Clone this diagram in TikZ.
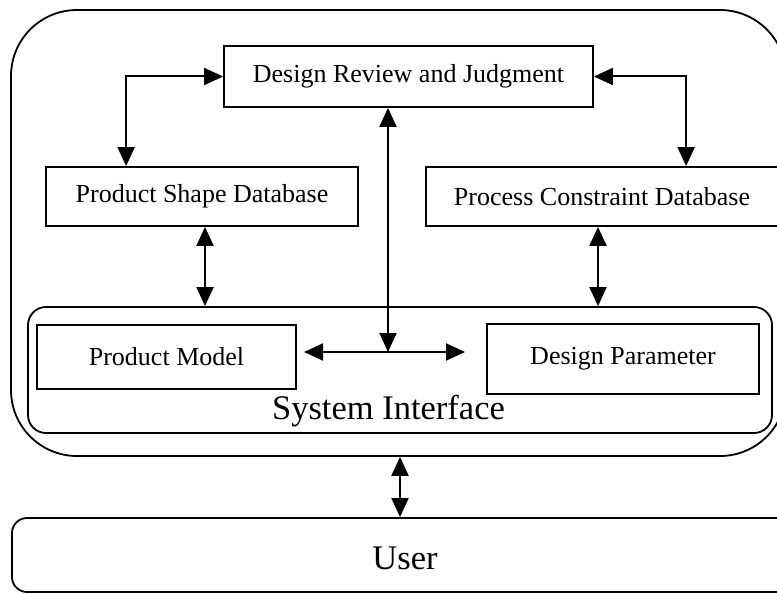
\documentclass[tikz,border=0pt]{standalone}
\usepackage{fontspec}
\setmainfont{Liberation Serif}
\usetikzlibrary{arrows.meta,calc}
\begin{document}
\begin{tikzpicture}[x=1pt,y=-1pt,
  box/.style={draw,line width=1.8pt,inner sep=0pt,font=\fontsize{26}{30}\selectfont},
  rbox/.style={box,rounded corners=#1},
  conn/.style={line width=2pt,{Triangle[length=19pt,width=17pt]}-{Triangle[length=19pt,width=17pt]}},
  big/.style={font=\fontsize{34.5}{40}\selectfont,inner sep=0pt}]
\useasboundingbox (0,0) rectangle (777,594);
\clip (0,0) rectangle (777,594);
% containers
\node[rbox=66pt,minimum width=775pt,minimum height=446pt] (outer) at (398.5,233) {};
\node[rbox=18pt,minimum width=744pt,minimum height=126pt] (si) at (400,370) {};
\node[big] (silabel) at (388.5,411) {System Interface};
\node[rbox=15pt,big,minimum width=786pt,minimum height=74pt,text height=30pt] (user) at (405,555) {User};
% boxes
\node[box,minimum width=369pt,minimum height=61pt] (dr) at (408.5,76.5) {Design Review and Judgment};
\node[box,minimum width=312pt,minimum height=59pt] (ps) at (202,196.5) {Product Shape Database};
\node[box,minimum width=352pt,minimum height=59pt] (pc) at (602,196.5) {Process Constraint Database};
\node[box,minimum width=259pt,minimum height=64pt] (pm) at (166.5,357) {Product Model};
\node[box,minimum width=272pt,minimum height=70pt] (dp) at (623,359) {Design Parameter};
% connectors
\draw[conn] (dr.west) -| ($(ps.north west)+(81,0)$);
\draw[conn] (dr.east) -| ($(pc.north west)+(261,0)$);
\draw[conn] ($(ps.south)+(3,0)$) -- ($(ps.south |- si.north)+(3,0)$);
\draw[conn] ($(pc.south)+(-4,0)$) -- ($(pc.south |- si.north)+(-4,0)$);
\coordinate (hc) at (388,352);
\coordinate (hl) at (304,352);
\coordinate (hr) at (465,352);
\draw[conn] (dr.south -| hc) -- (hc);
\draw[conn] (hl) -- (hr);
\coordinate (ux) at (400,0);
\draw[conn] (outer.south -| ux) -- (user.north -| ux);
\end{tikzpicture}
\end{document}
